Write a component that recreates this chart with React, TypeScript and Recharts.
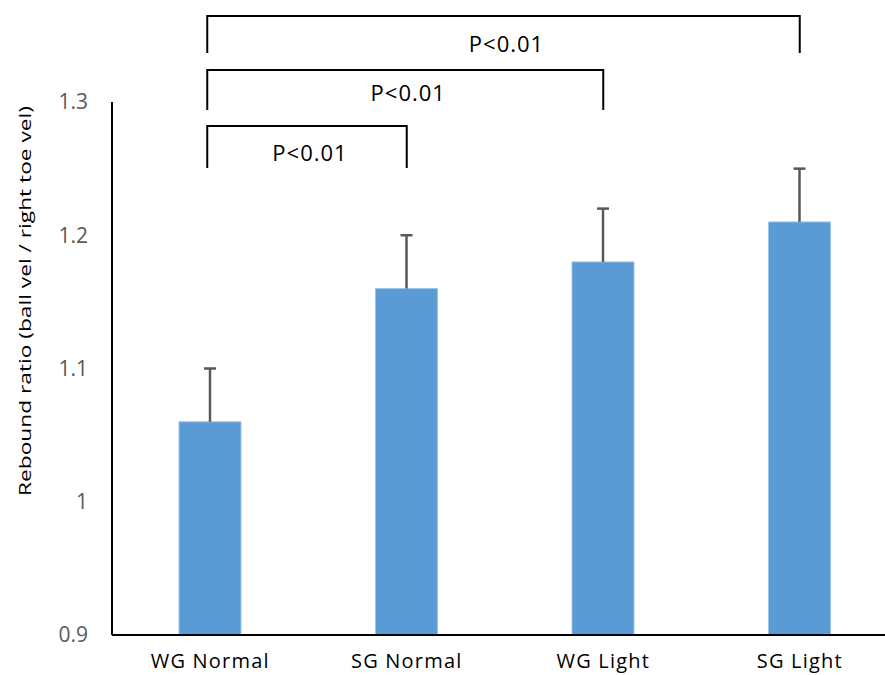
import { BarChart, Bar, XAxis, YAxis, Customized } from "recharts";

const categories = ["WG Normal", "SG Normal", "WG Light", "SG Light"];
const means = [1.06, 1.16, 1.18, 1.21];
const errors = [0.04, 0.04, 0.04, 0.04];
const yTicks = [0.9, 1, 1.1, 1.2, 1.3];

// significance brackets: [from index, to index, label]
const brackets: Array<[number, number, string]> = [
  [0, 3, "P<0.01"],
  [0, 2, "P<0.01"],
  [0, 1, "P<0.01"],
];

const data = categories.map((name, i) => ({ name, value: means[i], err: errors[i] }));

const W = 900;
const H = 675;
const margin = { top: 102, right: 2, bottom: 0, left: 0 };
const axisW = 112;
const font = "'Open Sans', 'Liberation Sans', sans-serif";

const Whisker = (props: any) => {
  const { x, y, width, height } = props;
  const cx = x + width / 2;
  return (
    <g>
      <line x1={cx} x2={cx} y1={y + height} y2={y} stroke="#595959" strokeWidth={2.5} />
      <line x1={cx - 6} x2={cx + 6} y1={y} y2={y} stroke="#595959" strokeWidth={2.5} />
    </g>
  );
};

const Brackets = () => {
  const left = margin.left + axisW;
  const band = (W - margin.right - left) / categories.length;
  const cx = (i: number) => left + band * (i + 0.5);
  const levels = [
    { y: 16, drop: 37, ty: 52 },
    { y: 70, drop: 40, ty: 101 },
    { y: 126, drop: 42, ty: 161 },
  ];
  return (
    <g>
      {brackets.map(([a, b, label], k) => {
        const l = levels[k];
        const x1 = cx(a) - 3;
        const x2 = cx(b);
        return (
          <g key={k}>
            <path
              d={`M${x1},${l.y + l.drop} V${l.y} H${x2} V${l.y + l.drop}`}
              fill="none"
              stroke="#000"
              strokeWidth={2}
            />
            <text
              x={(x1 + x2) / 2 + 3}
              y={l.ty}
              textAnchor="middle"
              fontSize={22}
              letterSpacing={1}
              fontFamily={font}
              fill="#000"
            >
              {label}
            </text>
          </g>
        );
      })}
    </g>
  );
};

export default function App() {
  return (
    <div style={{ position: "absolute", top: 0, left: 0, width: 885, height: 675, overflow: "hidden", background: "#fff" }}>
      <BarChart width={W} height={H} data={data} margin={margin} barSize={62}>
        <XAxis
          dataKey="name"
          height={40}
          axisLine={{ stroke: "#000", strokeWidth: 2 }}
          tickLine={false}
          tickSize={0}
          tickMargin={19}
          tick={{ fill: "#000", fontSize: 20, fontFamily: font, letterSpacing: 1.2 }}
          interval={0}
        />
        <YAxis
          width={axisW}
          domain={[0.9, 1.3]}
          allowDataOverflow
          ticks={yTicks}
          axisLine={{ stroke: "#000", strokeWidth: 2 }}
          tickLine={false}
          tickSize={0}
          tickMargin={24}
          tick={{ fill: "#595959", fontSize: 21, fontFamily: font }}
          label={{
            value: "Rebound ratio (ball vel / right toe vel)",
            angle: -90,
            position: "insideLeft",
            offset: 0,
            content: (p: any) => (
              <text
                x={25}
                y={301}
                transform="rotate(-90 25 301)"
                textAnchor="middle"
                dominantBaseline="central"
                fontSize={16}
                textLength={390}
                lengthAdjust="spacingAndGlyphs"
                fontFamily={font}
                fill="#000"
              >
                {p.value}
              </text>
            ),
          }}
        />
        <Bar dataKey="value" stackId="a" fill="#5B9BD5" stroke="#9DC3E6" strokeWidth={1} isAnimationActive={false} />
        <Bar dataKey="err" stackId="a" shape={<Whisker />} isAnimationActive={false} />
        <Customized component={Brackets} />
      </BarChart>
    </div>
  );
}
